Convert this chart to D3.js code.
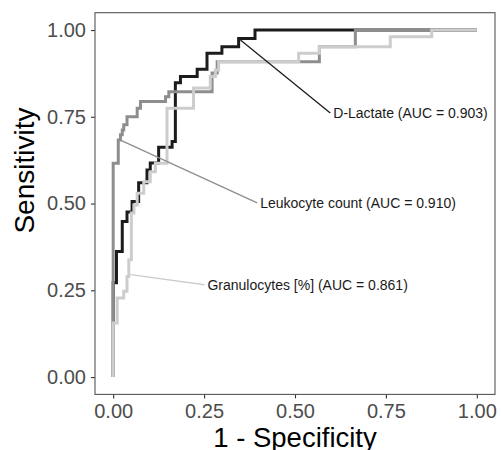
<!DOCTYPE html>
<html>
<head>
<meta charset="utf-8">
<script src="https://cdn.jsdelivr.net/npm/d3@7"></script>
<style>
  html, body { margin: 0; padding: 0; background: #fff; }
  svg { display: block; font-family: "Liberation Sans", Arial, sans-serif; }
</style>
</head>
<body>
<div id="chart"></div>
<script>
// ROC step vertices (1 - specificity, sensitivity)
const dLactateFpr = [0, 0.009, 0.025, 0.038, 0.052, 0.070, 0.093, 0.102, 0.125, 0.162, 0.171, 0.185, 0.231, 0.258, 0.299, 0.345, 0.390, 1]
const dLactateTpr = [0, 0.272, 0.362, 0.448, 0.476, 0.506, 0.560, 0.597, 0.617, 0.662, 0.679, 0.848, 0.866, 0.887, 0.933, 0.952, 0.976, 1]

const leukocyteFpr = [0, 0.014, 0.020, 0.025, 0.029, 0.038, 0.066, 0.075, 0.144, 0.153, 0.272, 0.286, 0.567, 0.666, 1]
const leukocyteTpr = [0, 0.616, 0.683, 0.698, 0.712, 0.727, 0.750, 0.775, 0.794, 0.808, 0.822, 0.876, 0.909, 0.952, 1]

const granulocyteFpr = [0, 0.011, 0.029, 0.038, 0.043, 0.050, 0.057, 0.066, 0.084, 0.102, 0.116, 0.148, 0.221, 0.267, 0.281, 0.290, 0.510, 0.567, 0.762, 0.876, 1]
const granulocyteTpr = [0, 0.156, 0.228, 0.247, 0.290, 0.338, 0.473, 0.496, 0.530, 0.563, 0.592, 0.616, 0.775, 0.833, 0.866, 0.885, 0.909, 0.933, 0.952, 0.981, 1]

const seriesNames = ["D-Lactate", "Leukocyte count", "Granulocytes [%]"]
const aucValues = ["0.903", "0.910", "0.861"]

// label leader lines: point on curve -> label position (data units)
const labelFromX = [0.350, 0.020, 0.048]
const labelFromY = [0.971, 0.683, 0.295]
const labelToX = [0.597, 0.396, 0.251]
const labelToY = [0.761, 0.502, 0.266]

const tickValues = [0, 0.25, 0.5, 0.75, 1]

const width = 501
const height = 450
const margin = { top: 12.7, right: 6, bottom: 55.6, left: 95 }

const colors = ["#1c1c1c", "#8e8e8e", "#cdcdcd"]

const series = [
  { fpr: dLactateFpr, tpr: dLactateTpr },
  { fpr: leukocyteFpr, tpr: leukocyteTpr },
  { fpr: granulocyteFpr, tpr: granulocyteTpr }
].map((s, i) => ({
  name: seriesNames[i],
  auc: aucValues[i],
  color: colors[i],
  points: s.fpr.map((x, j) => ({ x, y: s.tpr[j] })),
  from: { x: labelFromX[i], y: labelFromY[i] },
  to: { x: labelToX[i], y: labelToY[i] }
}))

const svg = d3.select("#chart")
  .append("svg")
  .attr("width", width)
  .attr("height", height)

const x = d3.scaleLinear()
  .domain([-0.05, 1.05])
  .range([margin.left, width - margin.right])

const y = d3.scaleLinear()
  .domain([-0.05, 1.05])
  .range([height - margin.bottom, margin.top])

// axes
const xAxis = svg.append("g")
  .attr("transform", `translate(0,${height - margin.bottom})`)
  .call(d3.axisBottom(x).tickValues(tickValues).tickFormat(d3.format(".2f")).tickSize(4).tickPadding(5))

const yAxis = svg.append("g")
  .attr("transform", `translate(${margin.left},0)`)
  .call(d3.axisLeft(y).tickValues(tickValues).tickFormat(d3.format(".2f")).tickSize(4).tickPadding(5))

;[xAxis, yAxis].forEach(g => {
  g.select(".domain").remove()
  g.selectAll(".tick line").style("stroke", "#333").style("stroke-width", 1.1)
  g.selectAll(".tick text")
    .style("font-size", "20px")
    .style("fill", "#4d4d4d")
    .style("font-family", "'Liberation Sans', Arial, sans-serif")
})

// panel border
svg.append("rect")
  .attr("x", margin.left)
  .attr("y", margin.top)
  .attr("width", width - margin.left - margin.right)
  .attr("height", height - margin.top - margin.bottom)
  .style("fill", "none")
  .style("stroke", "#555")
  .style("stroke-width", 1.1)

// ROC curves
const line = d3.line()
  .x(d => x(d.x))
  .y(d => y(d.y))
  .curve(d3.curveStepBefore)

svg.selectAll(".roc")
  .data(series)
  .enter()
  .append("path")
  .attr("class", "roc")
  .attr("d", d => line(d.points))
  .style("fill", "none")
  .style("stroke", d => d.color)
  .style("stroke-width", 3)
  .style("stroke-linejoin", "miter")

// leader lines + labels
svg.selectAll(".leader")
  .data(series)
  .enter()
  .append("line")
  .attr("class", "leader")
  .attr("x1", d => x(d.from.x))
  .attr("y1", d => y(d.from.y))
  .attr("x2", d => x(d.to.x))
  .attr("y2", d => y(d.to.y))
  .style("stroke", d => d.color)
  .style("stroke-width", 1.3)

svg.selectAll(".label")
  .data(series)
  .enter()
  .append("text")
  .attr("class", "label")
  .attr("x", d => x(d.to.x) + 3)
  .attr("y", d => y(d.to.y))
  .attr("dy", "0.35em")
  .style("font-size", "14px")
  .style("fill", "#1a1a1a")
  .text(d => `${d.name} (AUC = ${d.auc})`)

// axis titles
svg.append("text")
  .attr("x", (margin.left + width - margin.right) / 2)
  .attr("y", 447)
  .attr("text-anchor", "middle")
  .style("font-size", "27.5px")
  .style("fill", "#000")
  .text("1 - Specificity")

svg.append("text")
  .attr("transform", `translate(34,${y(0.595)}) rotate(-90)`)
  .attr("text-anchor", "middle")
  .style("font-size", "28px")
  .style("fill", "#000")
  .text("Sensitivity")
</script>
</body>
</html>
